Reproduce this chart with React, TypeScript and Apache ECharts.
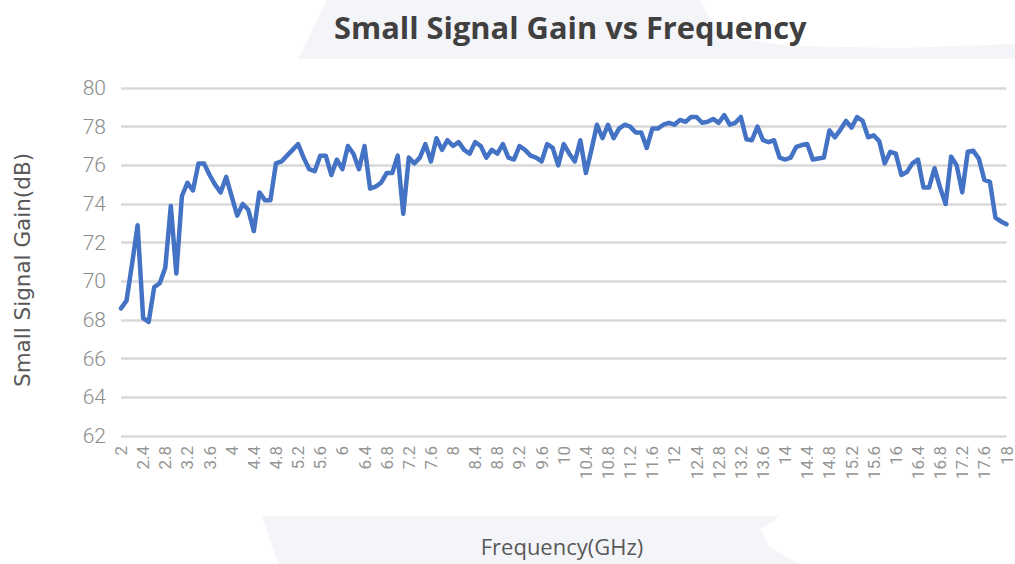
import React, { useEffect, useRef } from "react";
import * as echarts from "echarts";

const chartTitle = "Small Signal Gain vs Frequency";
const xAxisName = "Frequency(GHz)";
const yAxisName = "Small Signal Gain(dB)";

// Frequency points (GHz), 0.1 GHz step
const frequencies: number[] = [
  2, 2.1, 2.2, 2.3, 2.4, 2.5, 2.6, 2.7, 2.8, 2.9,
  3, 3.1, 3.2, 3.3, 3.4, 3.5, 3.6, 3.7, 3.8, 3.9,
  4, 4.1, 4.2, 4.3, 4.4, 4.5, 4.6, 4.7, 4.8, 4.9,
  5, 5.1, 5.2, 5.3, 5.4, 5.5, 5.6, 5.7, 5.8, 5.9,
  6, 6.1, 6.2, 6.3, 6.4, 6.5, 6.6, 6.7, 6.8, 6.9,
  7, 7.1, 7.2, 7.3, 7.4, 7.5, 7.6, 7.7, 7.8, 7.9,
  8, 8.1, 8.2, 8.3, 8.4, 8.5, 8.6, 8.7, 8.8, 8.9,
  9, 9.1, 9.2, 9.3, 9.4, 9.5, 9.6, 9.7, 9.8, 9.9,
  10, 10.1, 10.2, 10.3, 10.4, 10.5, 10.6, 10.7, 10.8, 10.9,
  11, 11.1, 11.2, 11.3, 11.4, 11.5, 11.6, 11.7, 11.8, 11.9,
  12, 12.1, 12.2, 12.3, 12.4, 12.5, 12.6, 12.7, 12.8, 12.9,
  13, 13.1, 13.2, 13.3, 13.4, 13.5, 13.6, 13.7, 13.8, 13.9,
  14, 14.1, 14.2, 14.3, 14.4, 14.5, 14.6, 14.7, 14.8, 14.9,
  15, 15.1, 15.2, 15.3, 15.4, 15.5, 15.6, 15.7, 15.8, 15.9,
  16, 16.1, 16.2, 16.3, 16.4, 16.5, 16.6, 16.7, 16.8, 16.9,
  17, 17.1, 17.2, 17.3, 17.4, 17.5, 17.6, 17.7, 17.8, 17.9,
  18,
];

// Small signal gain (dB)
const gain: number[] = [
  68.6, 69.0, 70.9, 72.9, 68.1, 67.9, 69.7, 69.9, 70.7, 73.9,
  70.4, 74.4, 75.1, 74.7, 76.1, 76.1, 75.5, 75.0, 74.6, 75.4,
  74.4, 73.4, 74.0, 73.7, 72.6, 74.6, 74.2, 74.2, 76.1, 76.2,
  76.5, 76.8, 77.1, 76.4, 75.8, 75.7, 76.5, 76.5, 75.5, 76.3,
  75.8, 77.0, 76.6, 75.8, 77.0, 74.8, 74.9, 75.1, 75.6, 75.6,
  76.5, 73.5, 76.4, 76.1, 76.4, 77.1, 76.2, 77.4, 76.8, 77.3,
  77.0, 77.2, 76.8, 76.6, 77.2, 77.0, 76.4, 76.8, 76.6, 77.1,
  76.4, 76.3, 77.0, 76.8, 76.5, 76.4, 76.2, 77.1, 76.9, 76.0,
  77.1, 76.6, 76.2, 77.3, 75.6, 76.8, 78.1, 77.4, 78.1, 77.4,
  77.9, 78.1, 78.0, 77.7, 77.7, 76.9, 77.9, 77.9, 78.1, 78.2,
  78.1, 78.35, 78.25, 78.5, 78.5, 78.2, 78.25, 78.4, 78.2, 78.6,
  78.1, 78.2, 78.5, 77.35, 77.3, 78.0, 77.3, 77.2, 77.3, 76.4,
  76.3, 76.4, 76.95, 77.05, 77.1, 76.3, 76.35, 76.4, 77.8, 77.45,
  77.85, 78.3, 77.95, 78.5, 78.3, 77.45, 77.55, 77.25, 76.1, 76.7,
  76.6, 75.5, 75.65, 76.1, 76.3, 74.85, 74.85, 75.85, 74.85, 74.0,
  76.45, 76.0, 74.6, 76.7, 76.75, 76.35, 75.25, 75.15, 73.3, 73.1,
  72.95,
];

const yMin = 62;
const yMax = 80;
const yStep = 2;

export default function App() {
  const ref = useRef<HTMLDivElement>(null);

  useEffect(() => {
    if (!ref.current) return;
    const chart = echarts.init(ref.current, null, { renderer: "svg" });
    const wm = "#f4f5f8";
    chart.setOption({
      animation: false,
      backgroundColor: "#ffffff",
      title: {
        text: chartTitle,
        left: 329,
        top: 6,
        textStyle: {
          fontFamily: "Open Sans",
          fontWeight: "bold",
          fontSize: 30.8,
          color: "#404040",
        },
      },
      grid: {
        left: 121,
        right: 8,
        top: 88,
        bottom: 128,
        containLabel: false,
      },
      graphic: [
        {
          type: "polygon",
          z: -100,
          silent: true,
          shape: {
            points: [
              [327, 0], [1015, 0], [1015, 59], [298, 59],
            ],
          },
          style: { fill: wm },
        },
        {
          type: "polygon",
          z: -99,
          silent: true,
          shape: {
            points: [
              [700, 0], [1015, 0], [1015, 44], [900, 48], [790, 46], [735, 38], [712, 22],
            ],
          },
          style: { fill: "#ffffff" },
        },
        {
          type: "polygon",
          z: -100,
          silent: true,
          shape: {
            points: [
              [262, 516], [780, 516], [760, 530], [770, 548], [800, 564], [278, 564],
            ],
          },
          style: { fill: wm },
        },
        {
          type: "text",
          x: 22,
          y: 270,
          rotation: Math.PI / 2,
          style: {
            text: yAxisName,
            fontFamily: "DejaVu Sans",
            fontSize: 21.5,
            fill: "#595959",
            align: "center",
            verticalAlign: "middle",
          },
        },
        {
          type: "text",
          x: 562,
          y: 546,
          style: {
            text: xAxisName,
            fontFamily: "Open Sans",
            fontSize: 22,
            fill: "#595959",
            align: "center",
            verticalAlign: "middle",
          },
        },
      ],
      xAxis: {
        type: "category",
        data: frequencies.map((f) => String(f)),
        boundaryGap: false,
        axisLine: { show: false },
        axisTick: { show: false },
        axisLabel: {
          interval: 3,
          rotate: 90,
          margin: 10,
          fontFamily: "Roboto",
          fontSize: 17,
          color: "#959595",
        },
        splitLine: { show: false },
      },
      yAxis: {
        type: "value",
        min: yMin,
        max: yMax,
        interval: yStep,
        axisLine: { show: false },
        axisTick: { show: false },
        axisLabel: {
          margin: 15,
          fontFamily: "Roboto",
          fontWeight: 300,
          fontSize: 21,
          color: "#8c8c8c",
        },
        splitLine: {
          show: true,
          lineStyle: { color: "#d9d9d9", width: 2.5 },
        },
      },
      series: [
        {
          type: "line",
          data: gain,
          symbol: "none",
          smooth: false,
          lineStyle: { color: "#4472C4", width: 4.5, cap: "round", join: "round" },
          z: 5,
        },
      ],
    });
    return () => chart.dispose();
  }, []);

  return (
    <div
      ref={ref}
      style={{ position: "fixed", left: 0, top: 0, width: 1015, height: 564 }}
    />
  );
}
